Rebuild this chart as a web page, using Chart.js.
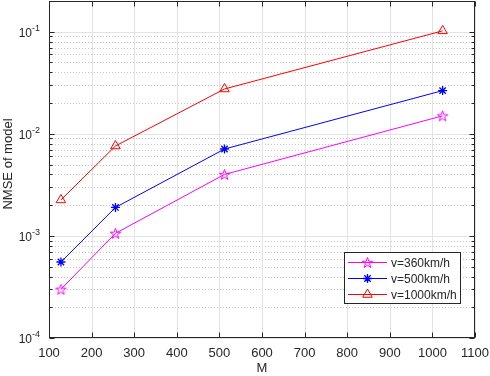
<!DOCTYPE html>
<html>
<head>
<meta charset="utf-8">
<script src="https://cdn.jsdelivr.net/npm/chart.js@4.4.1/dist/chart.umd.min.js"></script>
<style>
html, body { margin: 0; padding: 0; background: #fff; }
#wrap { width: 490px; height: 376px; }
</style>
</head>
<body>
<div id="wrap"><canvas id="nmse_chart" width="490" height="376"></canvas></div>
<script>
// data
var antennas = [128, 256, 512, 1024];
var nmse360 = [3.0e-4, 1.06e-3, 4.0e-3, 1.5e-2];
var nmse500 = [5.55e-4, 1.9e-3, 7.1e-3, 2.65e-2];
var nmse1000 = [2.25e-3, 7.6e-3, 2.75e-2, 0.102];
var seriesLabels = ['v=360km/h', 'v=500km/h', 'v=1000km/h'];
var xTicks = [100, 200, 300, 400, 500, 600, 700, 800, 900, 1000, 1100];
var yDecades = [1e-4, 1e-3, 1e-2, 1e-1];
var yExponents = ['-4', '-3', '-2', '-1'];

var FONT = '"Liberation Sans", Arial, Helvetica, sans-serif';
var AXIS_COLOR = '#262626';

function pentagram(color, r) {
    var size = Math.ceil(r * 2 + 4);
    var c = document.createElement('canvas');
    c.width = size; c.height = size;
    var ctx = c.getContext('2d');
    var cx = size / 2, cy = size / 2 + 0.5;
    ctx.beginPath();
    for (var i = 0; i < 10; i++) {
        var rad = (i % 2 === 0) ? r : r * 0.4;
        var a = -Math.PI / 2 + i * Math.PI / 5;
        var px = cx + rad * Math.cos(a), py = cy + rad * Math.sin(a);
        if (i === 0) ctx.moveTo(px, py); else ctx.lineTo(px, py);
    }
    ctx.closePath();
    ctx.strokeStyle = color;
    ctx.lineWidth = 1;
    ctx.stroke();
    return c;
}

var starImg = pentagram('#ff00ff', 5.5);

function toPoints(ys) {
    return antennas.map(function (x, i) { return { x: x, y: ys[i] }; });
}

var matlabAxes = {
    id: 'matlabAxes',
    beforeDatasetsDraw: function (chart) {
        var ctx = chart.ctx, a = chart.chartArea;
        var xs = chart.scales.x, ys = chart.scales.y;
        ctx.save();
        ctx.lineWidth = 1;
        // minor y grid (dotted)
        ctx.strokeStyle = '#c8c8c8';
        ctx.setLineDash([1, 2]);
        yDecades.forEach(function (d) {
            for (var k = 2; k <= 9; k++) {
                var v = d * k;
                if (v > ys.max) continue;
                var py = Math.round(ys.getPixelForValue(v)) + 0.5;
                ctx.beginPath(); ctx.moveTo(a.left, py); ctx.lineTo(a.right, py); ctx.stroke();
            }
        });
        // major grid (solid)
        ctx.setLineDash([]);
        ctx.strokeStyle = '#e3e3e3';
        yDecades.forEach(function (d) {
            var py = Math.round(ys.getPixelForValue(d)) + 0.5;
            ctx.beginPath(); ctx.moveTo(a.left, py); ctx.lineTo(a.right, py); ctx.stroke();
        });
        xTicks.forEach(function (t) {
            var px = Math.round(xs.getPixelForValue(t)) + 0.5;
            ctx.beginPath(); ctx.moveTo(px, a.top); ctx.lineTo(px, a.bottom); ctx.stroke();
        });
        ctx.restore();
    },
    afterDraw: function (chart) {
        var ctx = chart.ctx, a = chart.chartArea;
        var xs = chart.scales.x, ys = chart.scales.y;
        ctx.save();
        ctx.strokeStyle = AXIS_COLOR;
        ctx.lineWidth = 1;
        var L = Math.round(a.left) + 0.5, R = Math.round(a.right) - 0.5;
        var T = Math.round(a.top) + 0.5, B = Math.round(a.bottom) - 0.5;
        ctx.strokeRect(L, T, R - L, B - T);
        // inward ticks
        ctx.beginPath();
        xTicks.forEach(function (t) {
            var px = Math.round(xs.getPixelForValue(t)) + 0.5;
            ctx.moveTo(px, B); ctx.lineTo(px, B - 5);
            ctx.moveTo(px, T); ctx.lineTo(px, T + 5);
        });
        yDecades.forEach(function (d) {
            var py = Math.round(ys.getPixelForValue(d)) + 0.5;
            ctx.moveTo(L, py); ctx.lineTo(L + 5, py);
            ctx.moveTo(R, py); ctx.lineTo(R - 5, py);
            for (var k = 2; k <= 9; k++) {
                if (d * k > ys.max) continue;
                var pm = Math.round(ys.getPixelForValue(d * k)) + 0.5;
                ctx.moveTo(L, pm); ctx.lineTo(L + 3, pm);
                ctx.moveTo(R, pm); ctx.lineTo(R - 3, pm);
            }
        });
        ctx.stroke();

        // y tick labels 10^n
        ctx.fillStyle = AXIS_COLOR;
        ctx.textBaseline = 'alphabetic';
        yDecades.forEach(function (d, i) {
            var py = ys.getPixelForValue(d);
            ctx.font = '12px ' + FONT;
            var w1 = ctx.measureText('10').width;
            ctx.font = '9px ' + FONT;
            var w2 = ctx.measureText(yExponents[i]).width;
            var x0 = 40 - w1 - w2;
            ctx.font = '12px ' + FONT;
            ctx.textAlign = 'left';
            ctx.fillText('10', x0, py + 5);
            ctx.font = '9px ' + FONT;
            ctx.fillText(yExponents[i], x0 + w1, py - 1);
        });

        // axis titles
        ctx.font = '13px ' + FONT;
        ctx.textAlign = 'center';
        ctx.textBaseline = 'middle';
        ctx.fillText('M', (a.left + a.right) / 2, 368);
        ctx.save();
        ctx.translate(8, 164);
        ctx.rotate(-Math.PI / 2);
        ctx.fillText('NMSE of model', 0, 0);
        ctx.restore();

        // legend box inside the axes
        var bx = 344.5, by = 252.5, bw = 116, bh = 51;
        ctx.fillStyle = '#fff';
        ctx.fillRect(bx, by, bw, bh);
        ctx.strokeStyle = AXIS_COLOR;
        ctx.strokeRect(bx, by, bw, bh);
        chart.data.datasets.forEach(function (ds, i) {
            var ry = 262.5 + i * 16;
            ctx.strokeStyle = ds.borderColor;
            ctx.lineWidth = 1;
            ctx.beginPath(); ctx.moveTo(348, ry); ctx.lineTo(387, ry); ctx.stroke();
            var ps = ds.pointStyle;
            if (typeof ps === 'string') {
                ctx.fillStyle = 'rgba(0,0,0,0)';
                ctx.strokeStyle = ds.borderColor;
                ctx.lineWidth = ds.pointBorderWidth || 1;
                Chart.helpers.drawPoint(ctx, {
                    pointStyle: ps, radius: ds.pointRadius, borderWidth: ctx.lineWidth, rotation: 0
                }, 367.5, ry);
                ctx.lineWidth = 1;
            } else {
                ctx.drawImage(ps, 367.5 - ps.width / 2, ry - ps.height / 2);
            }
            ctx.fillStyle = AXIS_COLOR;
            ctx.font = '12px ' + FONT;
            ctx.textAlign = 'left';
            ctx.textBaseline = 'middle';
            ctx.fillText(ds.label, 391, ry + 1);
        });
        ctx.restore();
    }
};

new Chart(document.getElementById('nmse_chart').getContext('2d'), {
    type: 'line',
    data: {
        datasets: [
            {
                label: seriesLabels[0],
                data: toPoints(nmse360),
                borderColor: '#ff00ff',
                backgroundColor: 'rgba(0,0,0,0)',
                pointStyle: starImg,
                pointRadius: 6,
                borderWidth: 1
            },
            {
                label: seriesLabels[1],
                data: toPoints(nmse500),
                borderColor: '#0000ff',
                backgroundColor: 'rgba(0,0,0,0)',
                pointStyle: 'star',
                pointRadius: 4.5,
                pointBorderWidth: 1.3,
                borderWidth: 1
            },
            {
                label: seriesLabels[2],
                data: toPoints(nmse1000),
                borderColor: '#ff0000',
                backgroundColor: 'rgba(0,0,0,0)',
                pointStyle: 'triangle',
                pointRadius: 5.5,
                pointBorderWidth: 1,
                borderWidth: 1
            }
        ]
    },
    options: {
        responsive: false,
        animation: false,
        layout: { autoPadding: false, padding: { top: 1, right: 15, left: 0, bottom: 0 } },
        plugins: { legend: { display: false }, tooltip: { enabled: false } },
        scales: {
            x: {
                type: 'linear',
                min: 100,
                max: 1100,
                grid: { display: false },
                border: { display: false },
                afterFit: function (s) { s.height = 38; },
                afterBuildTicks: function (s) {
                    s.ticks = xTicks.map(function (v) { return { value: v }; });
                },
                ticks: {
                    color: AXIS_COLOR,
                    font: { family: FONT, size: 13 },
                    padding: 0,
                    maxRotation: 0,
                    autoSkip: false,
                    callback: function (v) { return String(v); }
                }
            },
            y: {
                type: 'logarithmic',
                min: 1e-4,
                max: 0.2,
                grid: { display: false },
                border: { display: false },
                ticks: { display: false },
                afterFit: function (s) { s.width = 49; }
            }
        }
    },
    plugins: [matlabAxes]
});
</script>
</body>
</html>
